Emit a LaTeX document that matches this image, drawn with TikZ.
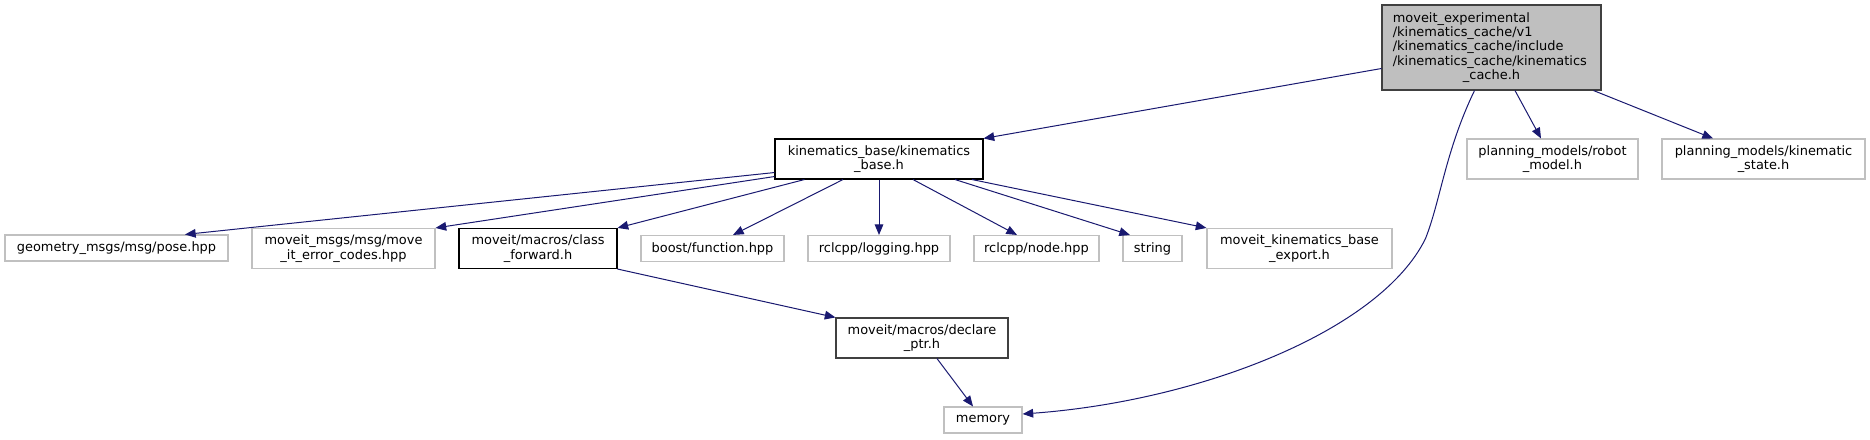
\documentclass[tikz,border=0pt]{standalone}
\usepackage{fontspec}
\setmainfont{DejaVu Sans}
\usetikzlibrary{arrows.meta, calc}

\definecolor{edgeblue}{HTML}{191970}
\definecolor{rootgray}{HTML}{BFBFBF}
\definecolor{extgray}{HTML}{C0C0C0}

\begin{document}
\begin{tikzpicture}[
    x=0.75pt, y=-0.75pt,
    file/.style={
        rectangle,
        draw=black,
        line width=0.8pt,
        align=center,
        inner xsep=2pt,
        inner ysep=1pt,
        minimum height=30pt,
        font=\fontsize{9.7}{10.8}\selectfont
    },
    ext/.style={
        file,
        draw=extgray
    },
    oneline/.style={minimum height=19.5pt},
    rootfile/.style={
        file,
        draw=black!75,
        fill=rootgray,
        align=left,
        text width=148pt,
        minimum width=164.25pt,
        minimum height=63.75pt
    },
    arrow/.style={-{Triangle[length=8pt,width=6.5pt]}, edgeblue, line width=0.75pt}
]
\useasboundingbox (0,0) rectangle (1870,439);

\node[rootfile] (cache) at (1491.5,47.5) {moveit\_experimental\\/kinematics\_cache/v1\\/kinematics\_cache/include\\/kinematics\_cache/kinematics\\\makebox[\hsize]{\_cache.h}};
\node[file, minimum width=156pt] (base) at (879,159) {kinematics\_base/kinematics\\\_base.h};
\node[ext, minimum width=128.25pt] (robot) at (1552.5,159) {planning\_models/robot\\\_model.h};
\node[ext, minimum width=152.25pt] (state) at (1763.5,159) {planning\_models/kinematic\\\_state.h};

\node[ext, oneline, minimum width=167.25pt] (pose) at (116.5,248) {geometry\_msgs/msg/pose.hpp};
\node[ext, minimum width=137.25pt] (errcodes) at (343.5,248.5) {moveit\_msgs/msg/move\\\_it\_error\_codes.hpp};
\node[file, minimum width=118.5pt] (classfwd) at (538,248.5) {moveit/macros/class\\\_forward.h};
\node[ext, oneline, minimum width=107.25pt] (function) at (712.5,248.5) {boost/function.hpp};
\node[ext, oneline, minimum width=106.5pt] (logging) at (879,248.5) {rclcpp/logging.hpp};
\node[ext, oneline, minimum width=93.75pt] (rclnode) at (1036.5,248.5) {rclcpp/node.hpp};
\node[ext, oneline, minimum width=44.25pt] (string) at (1152.5,248.5) {string};
\node[ext, minimum width=138.75pt] (export) at (1299.5,248.5) {moveit\_kinematics\_base\\\_export.h};

\node[file, draw=black!75, minimum width=129pt] (declare) at (922,338) {moveit/macros/declare\\\_ptr.h};
\node[ext, oneline, minimum width=58.5pt] (memory) at (983,420) {memory};

% edges from the root file
\draw[arrow] ($(cache.west)+(0,21)$) -- (base.north east);
\draw[arrow] ($(cache.south)+(-17,0)$) .. controls +(-29,60) and +(15,-38) .. ++(-49,148)
    .. controls +(-45,92) and +(178,-13) .. ($(memory.east)+(0,-6)$);
\draw[arrow] ($(cache.south)+(23.5,0)$) -- ($(robot.north)+(-11.5,0)$);
\draw[arrow] ($(cache.south east)+(-8,0)$) -- ($(state.north)+(-50.5,0)$);

% edges from kinematics_base
\draw[arrow] ($(base.south west)+(0,-7)$) -- ($(pose.north)+(68.5,0)$);
\draw[arrow] ($(base.south west)+(0,-3)$) -- (errcodes.north east);
\draw[arrow] ($(base.south west)+(30,0)$) -- (classfwd.north east);
\draw[arrow] ($(base.south)+(-36,0)$) -- ($(function.north)+(20.5,0)$);
\draw[arrow] (base.south) -- (logging.north);
\draw[arrow] ($(base.south)+(34,0)$) -- ($(rclnode.north)+(-19.5,0)$);
\draw[arrow] ($(base.south)+(76,0)$) -- ($(string.north)+(-22.5,0)$);
\draw[arrow] ($(base.south)+(93,0)$) -- (export.north west);

% macros chain
\draw[arrow] (classfwd.south east) -- (declare.north west);
\draw[arrow] ($(declare.south)+(15,0)$) -- ($(memory.north)+(-10,0)$);
\end{tikzpicture}
\end{document}
